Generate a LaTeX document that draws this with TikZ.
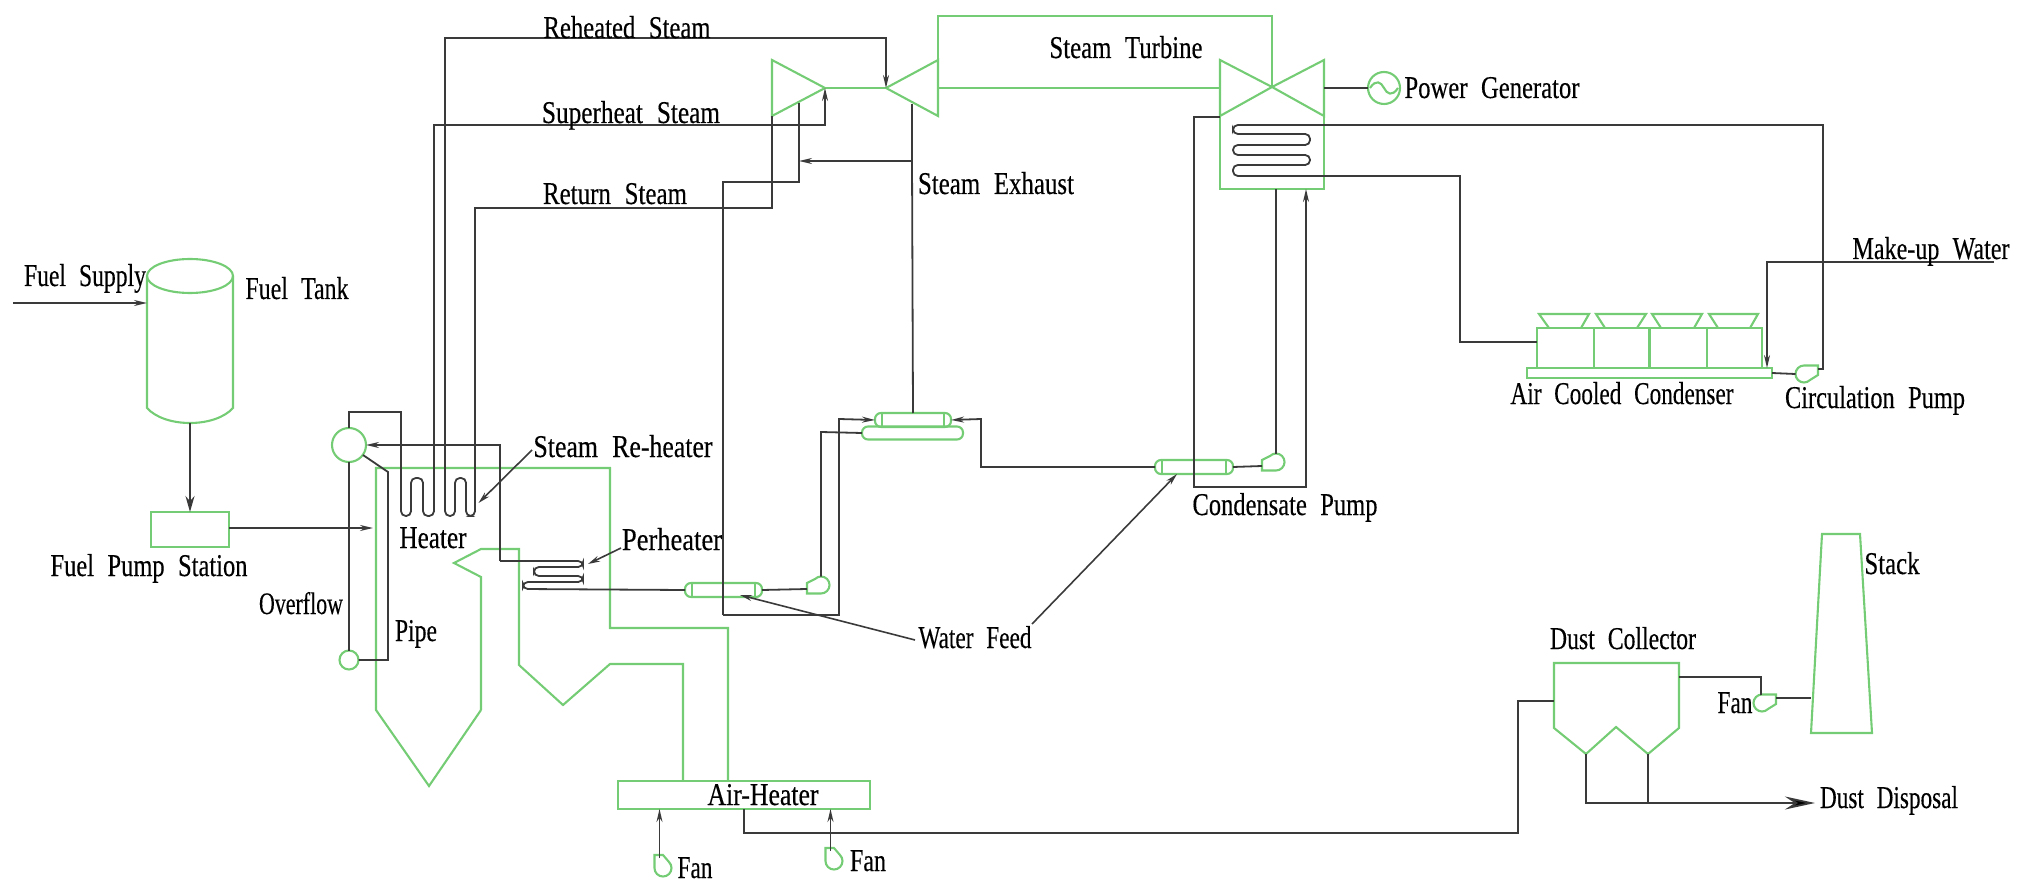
\documentclass[tikz,border=0pt]{standalone}
\usepackage{fontspec}
\setmainfont[WordSpace=2.2,FakeBold=0.35]{Liberation Serif}
\usetikzlibrary{arrows.meta,shapes.geometric}
\definecolor{gr}{HTML}{74CC74}
\definecolor{bk}{HTML}{3A3A3A}
\tikzset{
 pipe/.style={draw=bk,line width=1.8pt,line join=miter},
 coil/.style={pipe,rounded corners=4.8pt},
 gline/.style={draw=gr,line width=2.1pt,line join=miter},
 arr/.style={-{Stealth[length=13pt,width=6pt,fill=black]}},
 fatarr/.style={-{Stealth[length=16pt,width=9pt,fill=black]}},
 bigarr/.style={-{Stealth[length=30pt,width=13pt,fill=black]}},
 lead/.style={draw=bk,line width=1.6pt,-{Stealth[length=12pt,width=6pt,fill=black]}},
 box/.style={gline,rectangle,inner sep=0pt,outer sep=0pt},
 ball/.style={gline,circle,inner sep=0pt,outer sep=0pt},
 tube/.style={gline,rectangle,rounded corners=6pt,inner sep=0pt,outer sep=0pt},
 pumpnode/.style={circle,minimum size=17pt,inner sep=0pt,outer sep=0pt},
 lbl/.style={inner sep=0pt,outer sep=0pt,anchor=base,text=black},
}
\newcommand{\lbl}[5]{\node[lbl] (#1) at (#2,#3+11) {\resizebox{#4pt}{22pt}{\vphantom{Tl}#5}};}
% pump with its outlet to the left, tangent below
\newcommand{\pumpL}[3]{\node[pumpnode] (#1) at (#2,#3) {};
 \draw[gline] (#2-14,#3-2) -- (#2-6,#3-6) arc[start angle=135,end angle=-90,radius=8.5pt] -- (#2-14,#3+8.5) -- cycle;
 \coordinate (#1-in) at (#2-14,#3+4);}
% pump with its outlet to the right, tangent above
\newcommand{\pumpR}[3]{\node[pumpnode] (#1) at (#2,#3) {};
 \draw[gline] (#2+14,#3+1) -- (#2+6,#3+6) arc[start angle=-45,end angle=-270,radius=8.5pt] -- (#2+14,#3-8.5) -- cycle;
 \coordinate (#1-out) at (#2+14,#3-5);}
% fan with its outlet upwards, tangent on the left
\newcommand{\fanU}[3]{\node[pumpnode] (#1) at (#2,#3) {};
 \draw[gline] (#2-8.5,#3) -- (#2-8.5,#3-13) -- (#2,#3-13) -- (#2+6,#3-6) arc[start angle=45,end angle=-180,radius=8.5pt];
 \coordinate (#1-out) at (#2-3.5,#3-10);}
\begin{document}
\begin{tikzpicture}[x=1pt,y=-1pt]
\useasboundingbox (0,0) rectangle (2031,882);
% ---------- green equipment ----------
% fuel tank
\node[gline,ellipse,minimum width=86pt,minimum height=34pt,inner sep=0pt,outer sep=0pt] (tanktop) at (190,276) {};
\draw[gline] (tanktop.west) -- (147,408) .. controls (165,428) and (215,428) .. (233,408) -- (tanktop.east);
\coordinate (tankin) at (147,303);
\coordinate (tankout) at (190,423);
\node[box,minimum width=78pt,minimum height=35pt] (fps) at (190,529.5) {};
% boiler
\draw[gline] (481,710) -- (481,577) -- (454,563) -- (481,549) -- (519,549) -- (519,665) -- (563,705) -- (610,664) -- (683,664) -- (683,781);
\draw[gline] (728,781) -- (728,628) -- (610,628) -- (610,468) -- (376,468) -- (376,710) -- (429,786) -- (481,710);
\node[box,minimum width=252pt,minimum height=28pt] (airh) at (744,795) {};
\node[ball,minimum size=34pt] (drum) at (349,445) {};
\node[ball,minimum size=19pt] (header) at (349,660) {};
% turbines
\draw[gline] (825,88) -- (772,60) -- (772,116) -- cycle;
\draw[gline] (825,88) -- (886,88);
\draw[gline] (886,88) -- (938,60) -- (938,116) -- cycle;
\draw[gline] (938,60) -- (938,16) -- (1272,16) -- (1272,87);
\draw[gline] (938,88) -- (1220,88);
\draw[gline] (1272,87) -- (1220,60) -- (1220,116) -- cycle;
\draw[gline] (1272,87) -- (1324,60) -- (1324,116) -- cycle;
\draw[gline] (1220,116) -- (1220,189) -- (1324,189) -- (1324,116);
\node[ball,minimum size=32pt] (gen) at (1384,88) {};
\draw[gline] (1370,88) .. controls (1376,79) and (1381,82) .. (1384,88) .. controls (1387,94) and (1392,97) .. (1398,88);
\coordinate (turbA) at (825,88);
\coordinate (turbB) at (886,88);
\coordinate (turbAbot) at (772,116);
\coordinate (cond) at (1220,117);
\coordinate (condbot) at (1276,189);
\coordinate (condret) at (1306,189);
% heaters (tubes)
\node[tube,minimum width=76pt,minimum height=14pt] (t2up) at (913,420) {};
\node[tube,minimum width=101pt,minimum height=13pt] (t2lo) at (912.5,433) {};
\draw[gline] (882,413) -- (882,427) (944,413) -- (944,427);
\node[tube,minimum width=77pt,minimum height=14pt] (t1) at (723.5,590) {};
\draw[gline] (692,583) -- (692,597) (755,583) -- (755,597);
\node[tube,minimum width=78pt,minimum height=14pt] (t3) at (1194,467) {};
\draw[gline] (1162,460) -- (1162,474) (1226,460) -- (1226,474);
% pumps
\pumpL{p1}{821}{585}
\pumpL{p2}{1276}{462}
\pumpR{p3}{1804}{374}
\fanU{f1}{663}{868}
\fanU{f2}{834}{861}
\pumpR{f3}{1762}{703}
% air cooled condenser
\node[box,minimum width=245pt,minimum height=10pt] (acbase) at (1649.5,373) {};
\node[box,minimum width=57pt,minimum height=40pt] (ac1) at (1565.5,348) {};
\node[box,minimum width=55.5pt,minimum height=40pt] (ac2) at (1621.75,348) {};
\node[box,minimum width=57.5pt,minimum height=40pt] (ac3) at (1678.25,348) {};
\node[box,minimum width=55pt,minimum height=40pt] (ac4) at (1734.5,348) {};
\draw[gline] (1549,328) -- (1539,314) -- (1589,314) -- (1581,328);
\draw[gline] (1605,328) -- (1596,314) -- (1646,314) -- (1637,328);
\draw[gline] (1661,328) -- (1652,314) -- (1702,314) -- (1694,328);
\draw[gline] (1718,328) -- (1709,314) -- (1758,314) -- (1750,328);
% dust collector and stack
\draw[gline] (1554,728) -- (1554,663) -- (1679,663) -- (1679,728) -- (1648,754) -- (1616,727) -- (1586,754) -- cycle;
\draw[gline] (1822,534) -- (1860,534) -- (1872,733) -- (1811,733) -- cycle;
\coordinate (dcin) at (1554,701);
\coordinate (dcout) at (1679,677);
\coordinate (hopL) at (1586,754);
\coordinate (hopR) at (1648,754);
\coordinate (stackin) at (1811,698);
% ---------- dark connectors ----------
\coordinate (fsin) at (13,303);
\draw[pipe,arr] (fsin) -- (tankin);
\draw[pipe,fatarr] (tankout) -- (fps.north);
\coordinate (boilerin) at (373,528);
\draw[pipe,arr] (fps.east |- boilerin) -- (boilerin);
% reheater U tubes
\coordinate (rh1a) at (401,480);
\coordinate (rh1b) at (434,480);
\coordinate (rh2a) at (445,480);
\coordinate (rh2b) at (475,480);
\draw[pipe] (drum.north) -- (349,412) -- (401,412) -- (rh1a);
\draw[coil] (rh1a) -- (401,516) -- (411,516) -- (411,478) -- (423,478) -- (423,516) -- (434,516) -- (rh1b);
\draw[pipe,arr] (rh1b) -- (434,125) -- (825,125) -- (turbA);
\draw[coil] (rh2a) -- (445,516) -- (455,516) -- (455,478) -- (466,478) -- (466,516) -- (475,516) -- (rh2b);
\draw[pipe] (rh2b) -- (475,208) -- (772,208) -- (turbAbot);
\draw[pipe,arr] (rh2a) -- (445,38) -- (886,38) -- (turbB);
% drum connections
\draw[pipe] (drum.south) -- (header.north);
\draw[pipe] (header.east) -- (388,660) -- (388,472) -- (363,455);
\draw[pipe,arr] (500,561) -- (500,445) -- (drum.east);
% superheater coil
\draw[coil] (500,561) -- (583,561) -- (583,567) -- (534,567) -- (534,576) -- (583,576) -- (583,582) -- (523,582) -- (523,589) -- (t1.west);
\draw[pipe] (t1.east) -- (p1-in);
\draw[pipe] (p1.north) -- (821,432) -- (t2lo.west);
% bled steam
\draw[pipe] (723,615) -- (723,182) -- (799,182) -- (799,103);
\draw[pipe,arr] (t2up.north) -- (912,161) -- (799,161);
\draw[pipe] (912,161) -- (912,104);
\draw[pipe,arr] (723,615) -- (839,615) -- (839,419) -- (t2up.west);
\draw[pipe,arr] (t3.west) -- (981,467) -- (981,419) -- (t2up.east);
\draw[pipe] (t3.east) -- (p2-in);
\draw[pipe] (p2.north) -- (condbot);
\draw[pipe,arr] (cond) -- (1194,117) -- (1194,487) -- (1306,487) -- (condret);
% generator
\draw[pipe] (1324,88) -- (gen.west);
% condenser coil
\coordinate (ccA) at (1320,176);
\coordinate (ccB) at (1320,125);
\draw[coil] (ccA) -- (1233,176) -- (1233,165) -- (1310,165) -- (1310,155) -- (1233,155) -- (1233,145) -- (1310,145) -- (1310,134) -- (1233,134) -- (1233,125) -- (ccB);
\draw[pipe] (ccB) -- (1823,125) -- (1823,369) -- (p3-out);
\draw[pipe] (ccA) -- (1460,176) -- (1460,342) -- (ac1.west |- 1460,342);
\draw[pipe] (acbase.east) -- (p3.west);
\coordinate (mkw) at (1994,262);
\draw[pipe,arr] (mkw) -- (1767,262) -- (1767,368);
% flue gas
\draw[pipe] (744,809) -- (744,833) -- (1518,833) -- (1518,701) -- (dcin);
\draw[pipe,arr] (f1-out) -- (f1-out |- airh.south);
\draw[pipe,arr] (f2-out) -- (f2-out |- airh.south);
\draw[pipe] (dcout) -- (1761,677) -- (1761,695);
\draw[pipe] (f3-out) -- (stackin);
\draw[pipe] (hopL) -- (1586,803) -- (1648,803);
\draw[pipe] (hopR) -- (1648,803);
\coordinate (dusttip) at (1815,803);
\draw[pipe,bigarr] (1648,803) -- (dusttip);
% ---------- labels ----------
\lbl{reh}{627}{27}{167}{Reheated Steam}
\lbl{sup}{631}{112}{178}{Superheat Steam}
\lbl{ret}{615}{193}{144}{Return Steam}
\lbl{st}{1126}{47}{153}{Steam Turbine}
\lbl{pg}{1492}{87}{175}{Power Generator}
\lbl{se}{996}{183}{156}{Steam Exhaust}
\lbl{cp}{1285}{504}{185}{Condensate Pump}
\lbl{mu}{1931}{248}{157}{Make-up Water}
\lbl{acc}{1622}{393}{223}{Air Cooled Condenser}
\lbl{cip}{1875}{397}{180}{Circulation Pump}
\lbl{sk}{1892}{563}{55}{Stack}
\lbl{dc}{1623}{638}{146}{Dust Collector}
\lbl{fn3}{1735}{702}{35}{Fan}
\lbl{dd}{1889}{797}{138}{Dust Disposal}
\lbl{ah}{763}{794}{111}{Air-Heater}
\lbl{fn1}{695}{867}{35}{Fan}
\lbl{fn2}{868}{860}{36}{Fan}
\lbl{srh}{623}{446}{179}{Steam Re-heater}
\lbl{htr}{433}{537}{67}{Heater}
\lbl{phr}{672}{539}{100}{Perheater}
\lbl{wf}{975}{637}{113}{Water Feed}
\lbl{pp}{416}{630}{42}{Pipe}
\lbl{ov}{301}{603}{84}{Overflow}
\lbl{fp}{149}{565}{197}{Fuel Pump Station}
\lbl{ft}{297}{288}{103}{Fuel Tank}
\lbl{fs}{85}{275}{122}{Fuel Supply}
% leaders
\coordinate (srht) at (532,450); \coordinate (srhh) at (478.5,503);
\draw[lead] (srht) -- (srhh);
\coordinate (phrt) at (621,548); \coordinate (phrh) at (588,564);
\draw[lead] (phrt) -- (phrh);
\coordinate (wft) at (915,640); \coordinate (wfh) at (740,595);
\draw[lead] (wft) -- (wfh);
\coordinate (wfr) at (1032,624); \coordinate (wfh2) at (1177,474);
\draw[lead] (wfr) -- (wfh2);
\end{tikzpicture}
\end{document}
